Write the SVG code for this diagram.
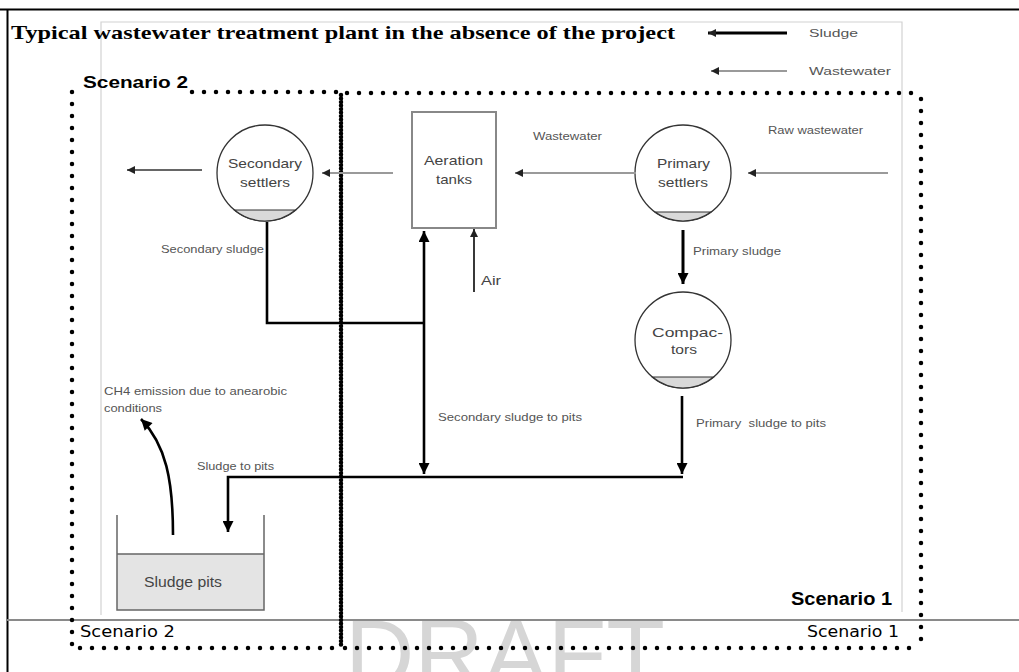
<svg xmlns="http://www.w3.org/2000/svg" width="1019" height="672" viewBox="0 0 1019 672">
<defs>
<style>
.lbl{font-family:"Liberation Sans",Arial,sans-serif;font-size:11.5px;fill:#555}
.nt{font-family:"Liberation Sans",Arial,sans-serif;font-size:13px;fill:#444}
.ww{stroke:#9a9a9a;stroke-width:2;fill:none}
.sl{stroke:#000;stroke-width:2.6;fill:none}
.dot{stroke:#000;stroke-width:4.5;stroke-linecap:round;stroke-dasharray:0 12;fill:none}
.circ{fill:#fff;stroke:#333;stroke-width:1.3}
.sed{fill:#d9d9d9;stroke:#333;stroke-width:1.2}
</style>
<marker id="hw" viewBox="0 0 10 10" refX="10" refY="5" markerWidth="9" markerHeight="8" markerUnits="userSpaceOnUse" orient="auto"><path d="M0,0 L10,5 L0,10 z" fill="#222"/></marker>
<marker id="hs" viewBox="0 0 10 10" refX="10" refY="5" markerWidth="12" markerHeight="11" markerUnits="userSpaceOnUse" orient="auto-start-reverse"><path d="M0,0 L10,5 L0,10 z" fill="#000"/></marker>
</defs>
<rect width="1019" height="672" fill="#fff"/>
<text x="345" y="687" font-family="Liberation Sans,Arial,sans-serif" font-size="96" fill="#d6d6d6" textLength="320" lengthAdjust="spacingAndGlyphs">DRAFT</text>
<g id="frame">
<path d="M0,9.5 H1019 M7.5,9 V672" stroke="#000" stroke-width="2" fill="none"/>
<path d="M101,615 V22 H902 V612" stroke="#d2d2d2" stroke-width="1.2" fill="none"/>
<path d="M7,620 H1019" stroke="#8a8a8a" stroke-width="2.2"/>
</g>
<g id="title">
<text x="11" y="39" font-family="Liberation Serif,'Times New Roman',serif" font-weight="bold" font-size="19" fill="#000" textLength="664" lengthAdjust="spacingAndGlyphs">Typical wastewater treatment plant in the absence of the project</text>
</g>
<g id="legend">
<line x1="787" y1="33" x2="708" y2="33" stroke="#000" stroke-width="3" marker-end="url(#hw)"/>
<text x="809" y="37" class="lbl" textLength="49" lengthAdjust="spacingAndGlyphs">Sludge</text>
<line x1="787" y1="71" x2="711" y2="71" class="ww" marker-end="url(#hw)"/>
<text x="809" y="75" class="lbl" textLength="82" lengthAdjust="spacingAndGlyphs">Wastewater</text>
</g>
<g id="scenario2">
<path class="dot" d="M72,92 V648 H338"/>
<path class="dot" d="M192,92 H338"/>
<text x="83" y="88" font-family="Liberation Sans,Arial,sans-serif" font-weight="bold" font-size="16" fill="#000" textLength="105" lengthAdjust="spacingAndGlyphs">Scenario 2</text>
<text x="80" y="637" font-family="DejaVu Sans,sans-serif" font-size="15" fill="#000" textLength="95" lengthAdjust="spacingAndGlyphs">Scenario 2</text>
</g>
<g id="scenario1">
<path class="dot" d="M347,93 H915 M921,99 V645 M345,648 H915"/>
<path d="M341,95 V648" stroke="#000" stroke-width="4.5" stroke-linecap="round" stroke-dasharray="0 3.5" fill="none"/>
<text x="791" y="605" font-family="Liberation Sans,Arial,sans-serif" font-weight="bold" font-size="18" fill="#000" textLength="101" lengthAdjust="spacingAndGlyphs">Scenario 1</text>
<text x="807" y="637" font-family="DejaVu Sans,sans-serif" font-size="15" fill="#000" textLength="92" lengthAdjust="spacingAndGlyphs">Scenario 1</text>
</g>
<g id="secondary-settlers">
<circle cx="265" cy="173" r="48" class="circ"/>
<path d="M234.4,210 A48,48 0 0,0 295.6,210 Z" class="sed"/>
<text x="228" y="168" class="nt" textLength="74" lengthAdjust="spacingAndGlyphs">Secondary</text>
<text x="240" y="187" class="nt" textLength="50" lengthAdjust="spacingAndGlyphs">settlers</text>
</g>
<g id="aeration-tanks">
<rect x="412" y="112" width="84" height="116" fill="#fff" stroke="#888" stroke-width="2"/>
<text x="424" y="165" class="nt" textLength="59" lengthAdjust="spacingAndGlyphs">Aeration</text>
<text x="436" y="184" class="nt" textLength="36" lengthAdjust="spacingAndGlyphs">tanks</text>
</g>
<g id="primary-settlers">
<circle cx="683" cy="173" r="48" class="circ"/>
<path d="M655,212 A48,48 0 0,0 711,212 Z" class="sed"/>
<text x="657" y="168" class="nt" textLength="53" lengthAdjust="spacingAndGlyphs">Primary</text>
<text x="658" y="187" class="nt" textLength="50" lengthAdjust="spacingAndGlyphs">settlers</text>
</g>
<g id="compactors">
<circle cx="683" cy="340" r="48" class="circ"/>
<path d="M652.4,377 A48,48 0 0,0 713.6,377 Z" class="sed"/>
<text x="652" y="337" class="nt" textLength="71" lengthAdjust="spacingAndGlyphs">Compac-</text>
<text x="671" y="354" class="nt" textLength="26" lengthAdjust="spacingAndGlyphs">tors</text>
</g>
<g id="sludge-pits">
<rect x="117" y="554" width="147" height="56" fill="#e4e4e4"/>
<path d="M117,515 V610 H264 V515 M117,554 H264" stroke="#666" stroke-width="1.5" fill="none"/>
<text x="144" y="587" font-family="Liberation Sans,Arial,sans-serif" font-size="14" fill="#444" textLength="78" lengthAdjust="spacingAndGlyphs">Sludge pits</text>
</g>
<g id="connectors">
<line x1="888" y1="173" x2="748" y2="173" class="ww" marker-end="url(#hw)"/>
<line x1="636" y1="173" x2="515" y2="173" class="ww" marker-end="url(#hw)"/>
<line x1="393" y1="173" x2="322" y2="173" class="ww" marker-end="url(#hw)"/>
<line x1="202" y1="170" x2="127" y2="170" stroke="#333" stroke-width="1.3" marker-end="url(#hw)"/>
<line x1="683" y1="230" x2="683" y2="284" stroke="#000" stroke-width="3" marker-end="url(#hs)"/>
<line x1="474" y1="292" x2="474" y2="229" stroke="#222" stroke-width="1.8" marker-end="url(#hw)"/>
<path d="M267,222 V323 H424" class="sl" stroke-width="2"/>
<line x1="424" y1="474" x2="424" y2="231" class="sl" marker-start="url(#hs)" marker-end="url(#hs)"/>
<line x1="682" y1="396" x2="682" y2="474" class="sl" marker-end="url(#hs)"/>
<path d="M683,477 H228 V532" class="sl" stroke-width="3" marker-end="url(#hs)"/>
<path d="M173,535 C173,480 166,445 141,419" class="sl" marker-end="url(#hs)"/>
</g>
<g id="labels">
<text x="533" y="140" class="lbl" textLength="69" lengthAdjust="spacingAndGlyphs">Wastewater</text>
<text x="768" y="134" class="lbl" textLength="95" lengthAdjust="spacingAndGlyphs">Raw wastewater</text>
<text x="693" y="255" class="lbl" textLength="88" lengthAdjust="spacingAndGlyphs">Primary sludge</text>
<text x="481" y="285" class="nt" textLength="20" lengthAdjust="spacingAndGlyphs">Air</text>
<text x="161" y="253" class="lbl" textLength="103" lengthAdjust="spacingAndGlyphs">Secondary sludge</text>
<text x="438" y="421" class="lbl" textLength="144" lengthAdjust="spacingAndGlyphs">Secondary sludge to pits</text>
<text x="696" y="427" class="lbl" textLength="130" lengthAdjust="spacingAndGlyphs" xml:space="preserve">Primary  sludge to pits</text>
<text x="197" y="470" class="lbl" textLength="77" lengthAdjust="spacingAndGlyphs">Sludge to pits</text>
<text x="104" y="395" class="lbl" textLength="183" lengthAdjust="spacingAndGlyphs">CH4 emission due to anearobic</text>
<text x="104" y="412" class="lbl" textLength="58" lengthAdjust="spacingAndGlyphs">conditions</text>
</g>
</svg>
